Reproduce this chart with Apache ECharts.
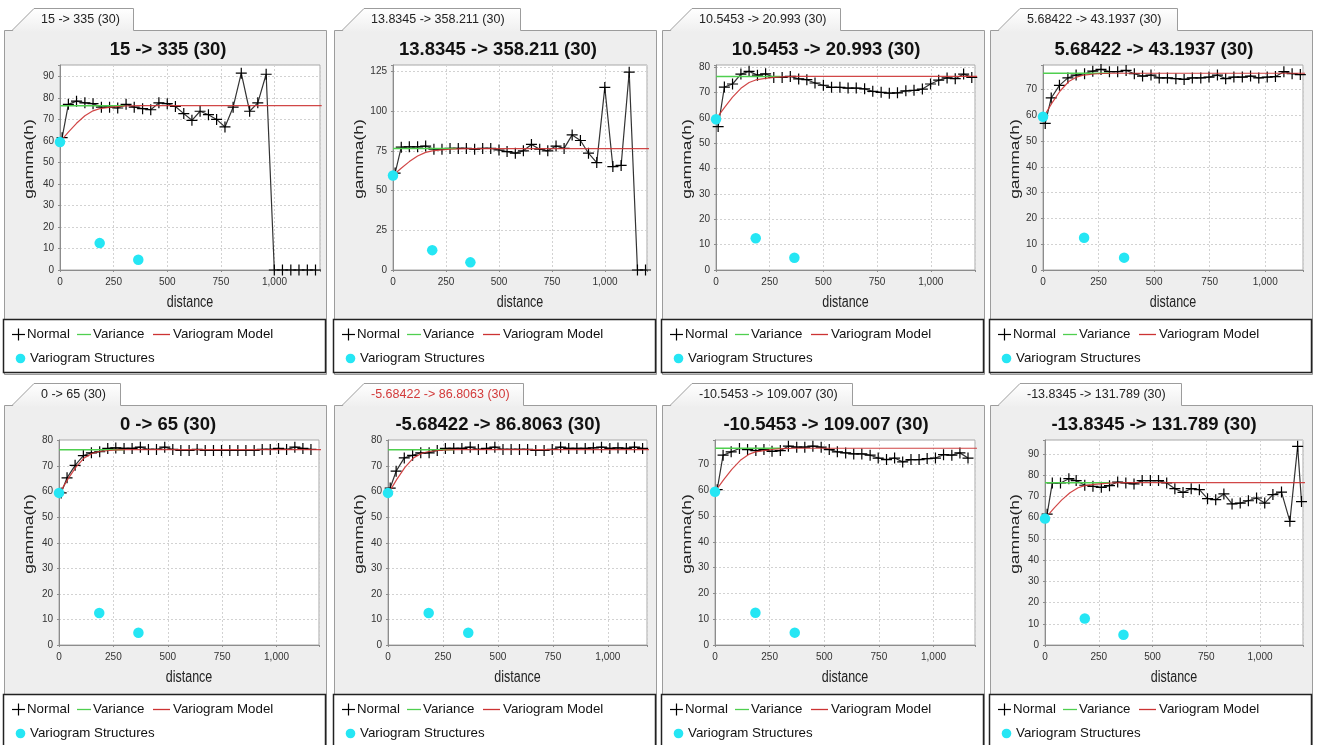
<!DOCTYPE html>
<html><head><meta charset="utf-8">
<script src="https://cdn.jsdelivr.net/npm/echarts@6/dist/echarts.min.js"></script>
<style>html,body{margin:0;padding:0;background:#fff}#c{width:1319px;height:745px}</style>
</head><body><div id="c"></div>
<script>
// ---------------- DATA ----------------
const panelTitles = ['15 -> 335 (30)', '13.8345 -> 358.211 (30)', '10.5453 -> 20.993 (30)', '5.68422 -> 43.1937 (30)',
  '0 -> 65 (30)', '-5.68422 -> 86.8063 (30)', '-10.5453 -> 109.007 (30)', '-13.8345 -> 131.789 (30)'];
const seriesNames = ['Normal', 'Variance', 'Variogram Model', 'Variogram Structures'];
const xAxisName = 'distance';
const yAxisName = 'gamma(h)';

// lag distances (x) of the experimental variogram points
const lagsA = [10, 39, 77, 116, 154, 193, 231, 269, 308, 346, 385, 423, 461, 500, 538, 577, 615, 653, 692, 730, 769, 807, 845, 884, 922, 961, 999, 1037, 1076, 1114, 1153, 1191];
const lagsB = [10, 37, 74, 112, 149, 187, 224, 261, 299, 336, 374, 411, 448, 486, 523, 560, 598, 635, 672, 710, 747, 785, 822, 859, 897, 934, 971, 1009, 1046, 1084, 1121, 1158];
const lagsP8 = [10, 34, 72, 111, 145, 185, 223, 262, 300, 338, 376, 414, 452, 490, 528, 566, 604, 642, 680, 718, 756, 794, 832, 870, 908, 946, 984, 1022, 1060, 1100, 1139, 1175, 1193];

// experimental gamma(h) values ("Normal")
const normal1 = [61.5, 77.0, 78.5, 77.7, 77.3, 75.7, 75.7, 75.3, 77.0, 75.7, 75.0, 74.5, 77.7, 77.3, 76.0, 72.7, 69.6, 73.8, 72.2, 70.0, 66.5, 75.7, 91.5, 73.8, 77.7, 91.0, 0, 0, 0, 0, 0, 0];
const normal2 = [61.0, 77.3, 77.5, 77.5, 78.0, 76.0, 76.0, 76.5, 76.5, 76.5, 76.0, 76.5, 76.5, 75.5, 74.5, 73.5, 75.0, 79.0, 76.0, 75.0, 78.0, 76.5, 85.0, 81.5, 73.5, 67.6, 114.9, 65.1, 65.8, 124.5, 0, 0];
const normal3 = [56.6, 72.2, 73.4, 77.3, 78.4, 76.9, 77.4, 76.0, 76.0, 76.4, 75.4, 75.1, 73.8, 72.9, 72.1, 72.1, 71.8, 71.8, 71.5, 70.5, 70.1, 69.8, 69.9, 70.7, 70.9, 71.4, 73.4, 74.9, 75.8, 75.5, 77.3, 76.0];
const normal4 = [56.9, 66.8, 71.7, 74.6, 75.7, 76.2, 77.2, 77.9, 77.0, 77.0, 77.5, 76.2, 75.3, 75.7, 74.6, 74.6, 74.3, 74.0, 74.6, 74.6, 74.9, 75.7, 74.3, 74.9, 74.9, 75.3, 74.6, 74.9, 75.1, 77.0, 76.2, 75.9];
const normal5 = [59.5, 65.4, 70.3, 74.1, 75.2, 75.6, 76.9, 77.1, 76.9, 76.9, 77.4, 76.5, 76.5, 77.4, 76.5, 76.1, 76.1, 76.5, 76.1, 76.1, 76.1, 76.1, 76.1, 76.1, 76.1, 76.5, 76.5, 76.9, 76.5, 77.4, 76.9, 76.5];
const normal6 = [61.4, 68.0, 73.2, 74.2, 75.2, 75.2, 76.1, 76.9, 76.9, 76.9, 77.4, 76.5, 76.9, 77.4, 76.5, 76.5, 76.5, 76.5, 76.1, 76.1, 76.5, 77.4, 76.9, 76.9, 76.9, 77.1, 77.4, 76.9, 77.1, 76.9, 77.4, 76.9];
const normal7 = [60.3, 73.7, 75.0, 76.3, 75.9, 75.5, 75.9, 75.2, 75.5, 77.2, 76.8, 76.8, 77.2, 76.8, 75.9, 75.0, 74.6, 74.2, 74.2, 73.7, 72.6, 72.0, 72.6, 71.1, 72.0, 72.0, 72.4, 72.6, 73.9, 73.7, 74.6, 72.6];
const normal8 = [61.6, 76.3, 76.3, 78.3, 77.4, 75.2, 74.7, 74.2, 75.0, 76.7, 76.3, 75.8, 77.4, 77.4, 77.4, 76.3, 73.6, 71.8, 73.6, 73.1, 68.9, 68.4, 71.1, 66.4, 66.8, 67.9, 69.2, 66.8, 70.8, 72.0, 58.2, 93.5, 67.5];

// variogram model curves
const modelDist = [10, 40, 77, 116, 154, 185, 230, 270, 310, 365, 1220];
const modelSlow = [60.7, 64.2, 68.2, 71.7, 74.0, 75.0, 75.6, 76.0, 76.25, 76.4, 76.4];
const modelFast = [60.5, 64.8, 69.5, 73.2, 75.0, 75.7, 76.1, 76.3, 76.4, 76.4, 76.4];

// sample variance line
const varianceDist = [0, 300];
const varianceValue = [76.4, 76.4];

// variogram structures (nugget + two structures)
const structDist = [0, 185, 365];
const structValue = [59.5, 12.5, 4.8];

// axis extents
const xMaxes = [1212, 1198, 1206, 1170, 1195, 1178, 1190, 1200];
const yMaxes = [95.3, 129, 80.9, 79.6, 80.2, 80.2, 79.6, 96.5];
const yIntervals = [10, 25, 10, 10, 10, 10, 10, 10];
const xInterval = 250;

const panelLags = [lagsA, lagsA, lagsA, lagsB, lagsB, lagsB, lagsB, lagsP8];
const panelNormal = [normal1, normal2, normal3, normal4, normal5, normal6, normal7, normal8];
const panelModel = [modelSlow, modelSlow, modelSlow, modelFast, modelFast, modelFast, modelSlow, modelSlow];

// ---------------- LAYOUT ----------------
const panelLeft = [4, 334, 662, 990];
const rowOffset = [0, 375];
const plotLeft = [60, 393, 716, 1043, 59, 388, 715, 1045];
const plotRight = [320, 647, 975, 1303, 319, 647, 975, 1303];
const tabRight = [133, 520, 840, 1177, 120, 523, 852, 1181];

const FONT = '"Liberation Sans", Arial, Helvetica, sans-serif';
const C_NORMAL = '#333333', C_VAR = '#4fcf4f', C_MODEL = '#cc3333', C_STRUCT = '#25e6f4';
const crossPath = 'path://M0,4.9H11V6.1H0Z M4.9,0H6.1V11H4.9Z';

const zip = (a, b) => a.map((v, k) => [v, b[k]]);

const grids = [], xAxes = [], yAxes = [], series = [], titles = [], gfx = [];

for (let i = 0; i < 8; i++) {
  const col = i % 4, row = Math.floor(i / 4);
  const PL = panelLeft[col], RY = rowOffset[row];
  const top = RY + 65, h = 205;
  const pl = plotLeft[i], pr = plotRight[i];

  grids.push({ left: pl, top: top, width: pr - pl, height: h, show: true,
    backgroundColor: '#ffffff', borderColor: '#a8a8a8', borderWidth: 1 });

  xAxes.push({ type: 'value', gridIndex: i, min: 0, max: xMaxes[i], interval: xInterval,
    axisLine: { show: true, onZero: false, lineStyle: { color: '#8c8c8c', width: 1 } },
    axisTick: { show: true, length: 2, lineStyle: { color: '#8c8c8c' } },
    axisLabel: { fontSize: 10, color: '#333', margin: 7, fontFamily: FONT,
      formatter: v => (v % xInterval === 0 ? v.toLocaleString('en-US') : '') },
    splitLine: { show: true, lineStyle: { color: '#d2d2d2', type: [2, 2], width: 1 } } });

  const yi = yIntervals[i];
  yAxes.push({ type: 'value', gridIndex: i, min: 0, max: yMaxes[i], interval: yi,
    axisLine: { show: true, onZero: false, lineStyle: { color: '#8c8c8c', width: 1 } },
    axisTick: { show: true, length: 2, lineStyle: { color: '#8c8c8c' } },
    axisLabel: { fontSize: 10, color: '#333', margin: 6, fontFamily: FONT,
      formatter: v => (Math.abs(v / yi - Math.round(v / yi)) < 1e-6 ? String(Math.round(v)) : '') },
    splitLine: { show: true, lineStyle: { color: '#d2d2d2', type: [2, 2], width: 1 } } });

  series.push({ name: seriesNames[0], type: 'line', xAxisIndex: i, yAxisIndex: i,
    data: zip(panelLags[i], panelNormal[i]), symbol: crossPath, symbolSize: [11, 11], showSymbol: true,
    lineStyle: { color: C_NORMAL, width: 1.2 }, itemStyle: { color: '#000', borderWidth: 0 },
    silent: true, animation: false, z: 2 });
  series.push({ name: seriesNames[1], type: 'line', xAxisIndex: i, yAxisIndex: i,
    data: zip(varianceDist, varianceValue), symbol: 'none',
    lineStyle: { color: C_VAR, width: 1.5 }, itemStyle: { color: C_VAR }, silent: true, animation: false, z: 3 });
  series.push({ name: seriesNames[2], type: 'line', xAxisIndex: i, yAxisIndex: i,
    data: zip(modelDist, panelModel[i]), symbol: 'none',
    lineStyle: { color: C_MODEL, width: 1.2, opacity: 0.9 }, itemStyle: { color: C_MODEL }, silent: true, animation: false, z: 4 });
  series.push({ name: seriesNames[3], type: 'scatter', xAxisIndex: i, yAxisIndex: i,
    data: zip(structDist, structValue), symbol: 'circle', symbolSize: 10.5,
    itemStyle: { color: C_STRUCT, opacity: 1 }, silent: true, animation: false, z: 5 });

  titles.push({ text: panelTitles[i], left: PL + 164, top: RY + 49.5, textAlign: 'center', textVerticalAlign: 'middle',
    padding: 0, textStyle: { fontSize: 18.5, fontWeight: 'bold', color: '#111', fontFamily: FONT } });

  // ---- decorations (panel, tab, axis names, legend) ----
  const panelH = row === 0 ? 344 : 400;
  gfx.push({ type: 'rect', z: -10, z2: 0, silent: true,
    shape: { x: PL + 0.5, y: RY + 30.5, width: 322, height: panelH },
    style: { fill: '#eeeeee', stroke: '#9c9c9c', lineWidth: 1 } });
  const tr = tabRight[i];
  gfx.push({ type: 'polygon', z: -10, z2: 1, silent: true,
    shape: { points: [[PL + 8, RY + 31.5], [PL + 30, RY + 8.5], [tr + 0.5, RY + 8.5], [tr + 0.5, RY + 31.5]] },
    style: { fill: { type: 'linear', x: 0, y: 0, x2: 0, y2: 1, colorStops: [{ offset: 0, color: '#ffffff' }, { offset: 1, color: '#efefef' }] } } });
  gfx.push({ type: 'polyline', z: -10, z2: 2, silent: true,
    shape: { points: [[PL + 8, RY + 30.5], [PL + 30, RY + 8.5], [tr + 0.5, RY + 8.5], [tr + 0.5, RY + 30.5]] },
    style: { fill: null, stroke: '#9c9c9c', lineWidth: 1 } });
  gfx.push({ type: 'text', z: -10, z2: 3, silent: true, x: PL + 37, y: RY + 19.5,
    style: { text: panelTitles[i], fontSize: 12.5, fontFamily: FONT, fill: i === 5 ? '#d23a3a' : '#222',
      textAlign: 'left', align: 'left', textVerticalAlign: 'middle', verticalAlign: 'middle' } });

  // axis names
  gfx.push({ type: 'text', z: -10, z2: 3, silent: true, x: (pl + pr) / 2, y: RY + 303, scaleY: 1.3,
    style: { text: xAxisName, fontSize: 12.5, fontFamily: FONT, fill: '#222',
      textAlign: 'center', align: 'center', textVerticalAlign: 'middle', verticalAlign: 'middle' } });
  gfx.push({ type: 'text', z: -10, z2: 3, silent: true, x: PL + 26, y: RY + 159, rotation: Math.PI / 2, scaleX: 1.4,
    style: { text: yAxisName, fontSize: 12.5, fontFamily: FONT, fill: '#222',
      textAlign: 'center', align: 'center', textVerticalAlign: 'middle', verticalAlign: 'middle' } });

  // legend box
  gfx.push({ type: 'rect', z: -10, z2: 3, silent: true,
    shape: { x: PL - 0.5, y: RY + 319.5, width: 322, height: row === 0 ? 53 : 70 },
    style: { fill: '#ffffff', stroke: '#222', lineWidth: 1.5 } });
  const ly1 = RY + 334.5, ly2 = RY + 358.5;
  const lt = (x, y, t) => ({ type: 'text', z: -10, z2: 5, silent: true, x: PL + x, y: y,
    style: { text: t, fontSize: 13.3, fontFamily: FONT, fill: '#111',
      textAlign: 'left', align: 'left', textVerticalAlign: 'middle', verticalAlign: 'middle' } });
  gfx.push({ type: 'line', z: -10, z2: 4, silent: true, shape: { x1: PL + 8, y1: ly1, x2: PL + 21, y2: ly1 }, style: { stroke: '#000', lineWidth: 1.2 } });
  gfx.push({ type: 'line', z: -10, z2: 4, silent: true, shape: { x1: PL + 14.5, y1: ly1 - 6, x2: PL + 14.5, y2: ly1 + 6 }, style: { stroke: '#000', lineWidth: 1.2 } });
  gfx.push(lt(23, ly1, seriesNames[0]));
  gfx.push({ type: 'line', z: -10, z2: 4, silent: true, shape: { x1: PL + 73, y1: ly1, x2: PL + 87, y2: ly1 }, style: { stroke: C_VAR, lineWidth: 1.3 } });
  gfx.push(lt(89, ly1, seriesNames[1]));
  gfx.push({ type: 'line', z: -10, z2: 4, silent: true, shape: { x1: PL + 149, y1: ly1, x2: PL + 166, y2: ly1 }, style: { stroke: C_MODEL, lineWidth: 1.3 } });
  gfx.push(lt(169, ly1, seriesNames[2]));
  gfx.push({ type: 'circle', z: -10, z2: 4, silent: true, shape: { cx: PL + 16.5, cy: ly2, r: 4.8 }, style: { fill: C_STRUCT } });
  gfx.push(lt(26, ly2, seriesNames[3]));
}

const chart = echarts.init(document.getElementById('c'), null, { renderer: 'canvas', width: 1319, height: 745 });
chart.setOption({
  animation: false,
  backgroundColor: '#ffffff',
  title: titles,
  grid: grids,
  xAxis: xAxes,
  yAxis: yAxes,
  series: series,
  graphic: { elements: gfx }
});
</script></body></html>
